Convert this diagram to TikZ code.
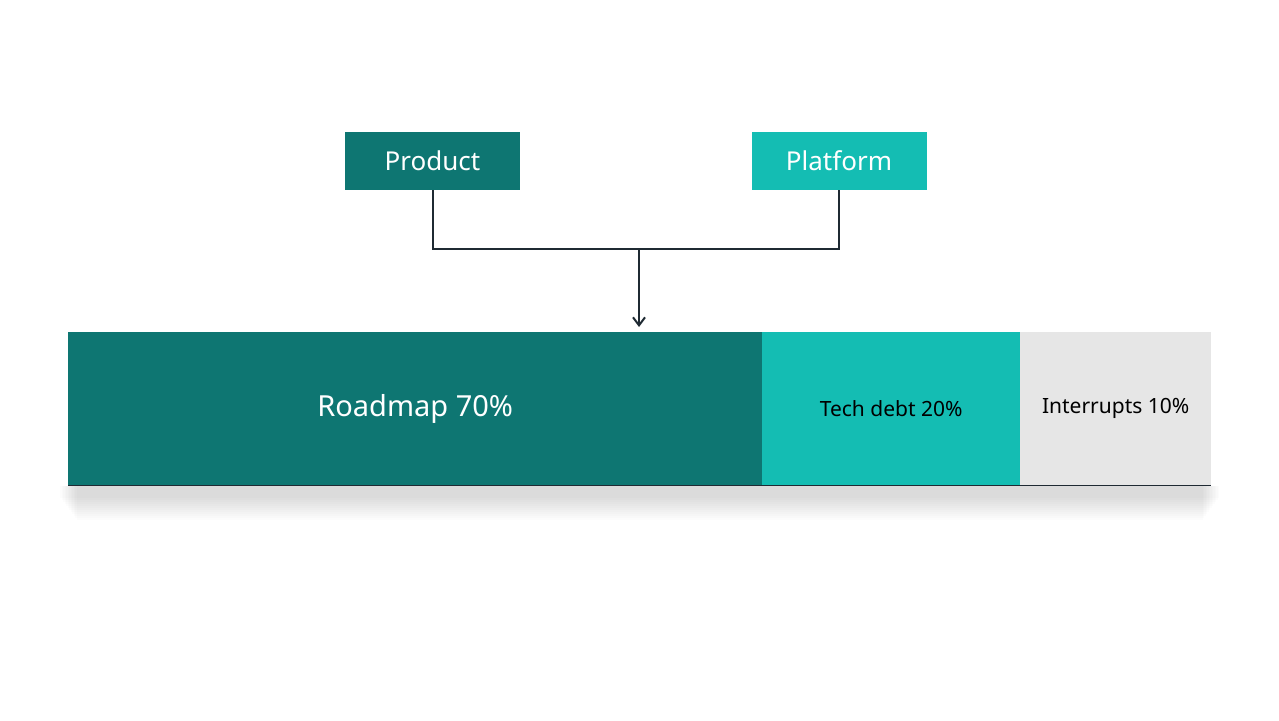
\documentclass[tikz,border=0pt]{standalone}
\usepackage{fontspec}
\setmainfont{Noto Sans}
\usetikzlibrary{positioning,arrows.meta}
\definecolor{tealdark}{HTML}{0E7672}
\definecolor{teallight}{HTML}{14BDB3}
\definecolor{greyseg}{HTML}{E6E6E6}
\definecolor{linecol}{HTML}{1F2A33}
\tikzset{
  team/.style={minimum width=175pt, minimum height=58pt, inner sep=0pt,
    text=white, font=\fontsize{26}{28}\selectfont\bfseries},
  seg/.style={minimum height=153pt, inner sep=0pt, anchor=north west},
  link/.style={draw=linecol, line width=2pt}
}
\begin{document}
\begin{tikzpicture}[x=1pt,y=-1pt]
  \useasboundingbox (0,0) rectangle (1279,720);

  %% shadow under the bar
  \foreach \i in {0,...,11}
    \fill[black, opacity=0.012] (60+\i*1.5,486) rectangle (1219-\i*1.5,498+\i*2);

  %% teams
  \node[team, fill=tealdark] (product) at (432.5,161) {Product};
  \node[team, fill=teallight] (platform) at (839,161) {Platform};

  %% allocation bar
  \node[seg, fill=tealdark, minimum width=694pt, text=white,
    font=\fontsize{29}{31}\selectfont\bfseries] (roadmap) at (68,332) {Roadmap 70\%};
  \node[seg, fill=teallight, minimum width=258pt, text=black,
    font=\fontsize{21}{23}\selectfont\bfseries] (techdebt) at (762,332) {Tech debt 20\%};
  \node[seg, fill=greyseg, minimum width=191pt, text=black,
    font=\fontsize{21}{23}\selectfont\bfseries] (interrupts) at (1020,332) {Interrupts 10\%};
  \draw[linecol, line width=1.5pt] (roadmap.south west) -- (interrupts.south east);

  %% connector
  \coordinate (merge) at (639,249);
  \draw[link] (product.south) |- (merge) -| (platform.south);
  \draw[link, -{Straight Barb[length=8pt,width=12pt]}] (merge) -- (639,327);

\end{tikzpicture}
\end{document}
